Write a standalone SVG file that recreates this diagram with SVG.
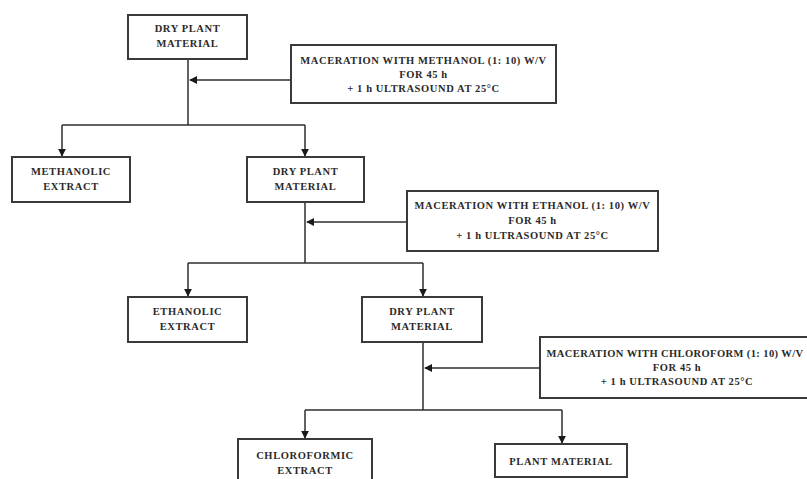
<svg xmlns="http://www.w3.org/2000/svg" width="807" height="479" viewBox="0 0 807 479">
<style>
.box{fill:#fff;stroke:#3a3a3a;stroke-width:2}
.t{font-family:"Liberation Serif","DejaVu Serif",serif;font-size:10.5px;font-weight:bold;letter-spacing:0.6px;fill:#2a2a2a;text-anchor:middle}
.c{fill:none;stroke:#2e2e2e;stroke-width:1.5}
</style>
<defs>
<marker id="ah" viewBox="0 0 10 10" refX="9" refY="5" markerWidth="8" markerHeight="8" markerUnits="userSpaceOnUse" orient="auto">
<path d="M0,0 L10,5 L0,10 z" fill="#1a1a1a"/>
</marker>
</defs>
<rect width="807" height="479" fill="#fff"/>
<g id="connectors">
<path class="c" d="M188,59 V125"/>
<path class="c" d="M291,80 H190" marker-end="url(#ah)"/>
<path class="c" d="M62,125 H305"/>
<path class="c" d="M62,125 V156" marker-end="url(#ah)"/>
<path class="c" d="M305,125 V156" marker-end="url(#ah)"/>
<path class="c" d="M305,202 V263"/>
<path class="c" d="M407,222 H307" marker-end="url(#ah)"/>
<path class="c" d="M188,263 H423"/>
<path class="c" d="M188,263 V296" marker-end="url(#ah)"/>
<path class="c" d="M423,263 V296" marker-end="url(#ah)"/>
<path class="c" d="M423,342 V410"/>
<path class="c" d="M540,368 H425" marker-end="url(#ah)"/>
<path class="c" d="M305,410 H562"/>
<path class="c" d="M305,410 V438" marker-end="url(#ah)"/>
<path class="c" d="M562,410 V443" marker-end="url(#ah)"/>
</g>
<g id="n1"><rect class="box" x="128" y="15" width="119" height="44"/>
<text class="t" x="187.5" y="32">DRY PLANT</text><text class="t" x="187.5" y="47">MATERIAL</text></g>
<g id="m1"><rect class="box" x="291" y="45" width="265" height="58"/>
<text class="t" x="423.5" y="64">MACERATION WITH METHANOL (1: 10) W/V</text>
<text class="t" x="423.5" y="78">FOR 45 h</text>
<text class="t" x="423.5" y="92">+ 1 h ULTRASOUND AT 25°C</text></g>
<g id="n2"><rect class="box" x="12" y="157" width="118" height="45"/>
<text class="t" x="71" y="175">METHANOLIC</text><text class="t" x="71" y="190">EXTRACT</text></g>
<g id="n3"><rect class="box" x="247" y="157" width="117" height="45"/>
<text class="t" x="305.5" y="175">DRY PLANT</text><text class="t" x="305.5" y="190">MATERIAL</text></g>
<g id="m2"><rect class="box" x="407" y="191" width="251" height="60"/>
<text class="t" x="532.5" y="209">MACERATION WITH ETHANOL (1: 10) W/V</text>
<text class="t" x="532.5" y="224">FOR 45 h</text>
<text class="t" x="532.5" y="239">+ 1 h ULTRASOUND AT 25°C</text></g>
<g id="n4"><rect class="box" x="128" y="297" width="119" height="45"/>
<text class="t" x="187.5" y="315">ETHANOLIC</text><text class="t" x="187.5" y="330">EXTRACT</text></g>
<g id="n5"><rect class="box" x="362" y="297" width="120" height="45"/>
<text class="t" x="422" y="315">DRY PLANT</text><text class="t" x="422" y="330">MATERIAL</text></g>
<g id="m3"><rect class="box" x="540" y="337" width="275" height="61"/>
<text class="t" x="675" y="357" style="letter-spacing:0.4px">MACERATION WITH CHLOROFORM (1: 10) W/V</text>
<text class="t" x="677" y="371">FOR 45 h</text>
<text class="t" x="677" y="385">+ 1 h ULTRASOUND AT 25°C</text></g>
<g id="n6"><rect class="box" x="238" y="439" width="134" height="50"/>
<text class="t" x="305" y="459">CHLOROFORMIC</text><text class="t" x="305" y="474">EXTRACT</text></g>
<g id="n7"><rect class="box" x="495" y="444" width="132" height="33"/>
<text class="t" x="561" y="465">PLANT MATERIAL</text></g>
</svg>
